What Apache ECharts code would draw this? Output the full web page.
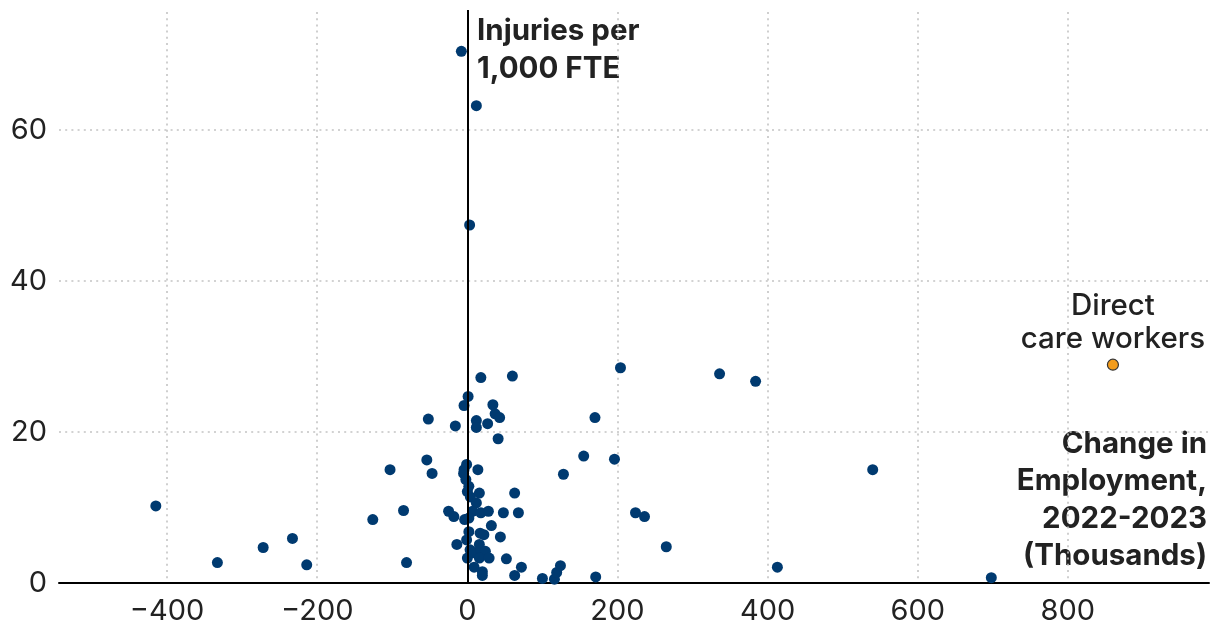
<!DOCTYPE html>
<html>
<head>
<meta charset="utf-8">
<script src="https://cdn.jsdelivr.net/npm/echarts@6/dist/echarts.min.js"></script>
<style>
html,body{margin:0;padding:0;background:#fff;}
#chart{width:1220px;height:644px;}
</style>
</head>
<body>
<div id="chart"></div>
<script>
// Occupations: [change in employment 2022-2023 (thousands), injuries per 1,000 FTE]
const occupationPoints = [
  [-415, 10.2], [-333, 2.7], [-272, 4.7], [-233, 5.9], [-214, 2.4],
  [-126, 8.4], [-103, 15.0], [-85, 9.6], [-81, 2.7], [-52, 21.7],
  [-54, 16.3], [-47, 14.5], [-25, 9.5], [-18, 8.8], [-16, 20.8],
  [-14, 5.1], [-8, 70.4], [-4.4, 23.5], [-4.4, 15.0], [-5, 14.5],
  [-2, 13.7], [-3.6, 8.4], [-1, 15.7], [-1, 5.7],
  [1, 24.7], [3, 47.4], [12, 63.2], [2, 12.8], [0, 12.1], [4, 11.4],
  [12, 10.6], [7, 9.5], [2, 8.6], [2, 6.8], [3.6, 4.4], [0, 3.3],
  [9, 4.0], [9, 2.1],
  [14, 15.0], [16, 11.9], [18, 9.3], [28, 9.5], [17, 6.6], [22, 6.4],
  [16, 5.1], [18, 4.4], [24, 4.2], [16, 3.3], [29, 3.3], [20, 1.5], [20, 1.0],
  [18, 27.2], [60, 27.4], [34, 23.6], [37, 22.4], [43, 21.9], [12, 21.5],
  [12, 20.6], [27, 21.1], [41, 19.1],
  [63, 11.9], [48, 9.3], [68, 9.3], [32, 7.6], [44, 6.1], [52, 3.2],
  [72, 2.1], [63, 1.0],
  [100, 0.6], [116, 0.5], [119, 1.4], [124, 2.3], [128, 14.4], [155, 16.8],
  [171, 0.8], [170, 21.9], [196, 16.4], [204, 28.5], [224, 9.3], [236, 8.8],
  [265, 4.8], [336, 27.7], [384, 26.7], [413, 2.1], [540, 15.0], [698, 0.7]
];
const directCarePoint = [[860, 28.9]];
const directCareLabel = 'Direct\ncare workers';
const xTicks = [-400, -200, 0, 200, 400, 600, 800];
const yTicks = [0, 20, 40, 60];
const xRange = [-544, 988];
const yRange = [0, 75.6];
const yTitle = 'Injuries per\n1,000 FTE';
const xTitle = 'Change in\nEmployment,\n2022-2023\n(Thousands)';

const FONT = 'Inter, "Noto Sans", sans-serif';
const TEXT = '#222222';
const chart = echarts.init(document.getElementById('chart'), null, {renderer: 'canvas'});

const gridLine = {show: true, lineStyle: {color: '#c4c4c4', width: 1.6, type: [2, 4.2]}};

chart.setOption({
  animation: false,
  backgroundColor: '#ffffff',
  grid: {left: 59, right: 11, top: 12, bottom: 61, containLabel: false},
  xAxis: {
    type: 'value',
    min: xRange[0], max: xRange[1],
    axisLine: {show: true, onZero: false, lineStyle: {color: '#000', width: 2}},
    axisTick: {show: false, customValues: xTicks},
    axisLabel: {
      customValues: xTicks, color: TEXT, fontSize: 29, fontFamily: FONT, margin: 14,
      formatter: v => (v < 0 ? '\u2212' + Math.abs(v) : String(v))
    },
    splitLine: gridLine
  },
  yAxis: {
    type: 'value',
    min: yRange[0], max: yRange[1],
    axisLine: {show: false},
    axisTick: {show: false, customValues: yTicks},
    axisLabel: {customValues: yTicks, color: TEXT, fontSize: 29, fontFamily: FONT, margin: 12},
    splitLine: gridLine
  },
  graphic: [
    {type: 'text', x: 477, y: 12, style: {text: yTitle, fontSize: 29.5, fontWeight: 'bold', fontFamily: FONT, fill: TEXT, lineHeight: 38, align: 'left', verticalAlign: 'top'}},
    {type: 'text', x: 1207, y: 425, style: {text: xTitle, fontSize: 29.5, fontWeight: 'bold', fontFamily: FONT, fill: TEXT, lineHeight: 37.5, align: 'right', verticalAlign: 'top'}}
  ],
  series: [
    {
      type: 'scatter',
      data: occupationPoints,
      symbolSize: 11,
      itemStyle: {color: '#003a70', opacity: 1},
      z: 3,
      markLine: {
        silent: true, symbol: 'none', animation: false,
        lineStyle: {color: '#000', width: 2, type: 'solid', opacity: 1},
        label: {show: false},
        data: [[{coord: [0, 0]}, {coord: [0, yRange[1]], y: 10}]]
      }
    },
    {
      type: 'scatter',
      data: directCarePoint,
      symbolSize: 11,
      itemStyle: {color: '#f39c1c', borderColor: '#333', borderWidth: 1.2, opacity: 1},
      z: 4,
      label: {
        show: true, position: 'top', distance: 3, opacity: 1,
        formatter: directCareLabel, fontSize: 29.5, fontWeight: 500, fontFamily: FONT, color: TEXT,
        lineHeight: 33, align: 'center'
      }
    }
  ]
});
</script>
</body>
</html>
